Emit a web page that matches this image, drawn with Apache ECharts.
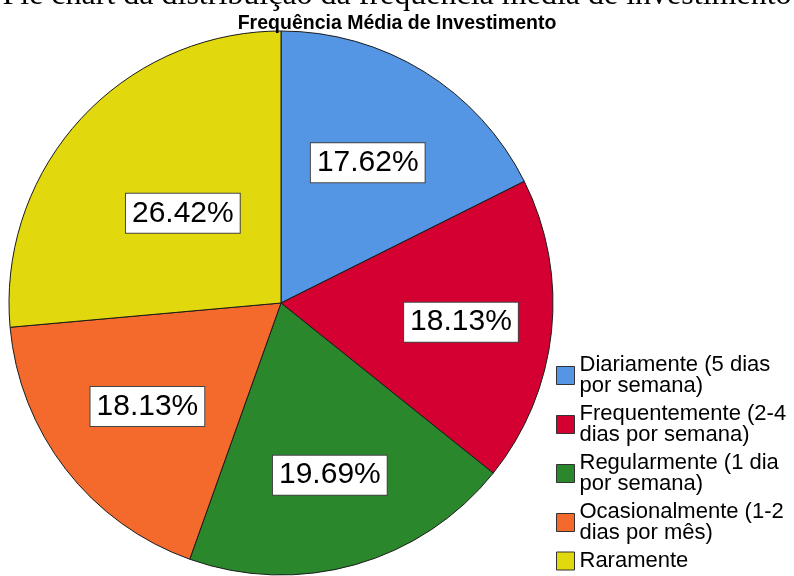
<!DOCTYPE html>
<html>
<head>
    <meta charset="utf-8">
    <title>Frequência Média de Investimento</title>
    <script src="https://cdn.jsdelivr.net/npm/echarts@6/dist/echarts.min.js"></script>
</head>
<body style="margin:0;background:#fff;">
    <div id="main" style="width: 794px;height:576px;"></div>
    <script type="text/javascript">
        // dados (percentagens)
        var categorias = [
            'Diariamente (5 dias\npor semana)',
            'Frequentemente (2-4\ndias por semana)',
            'Regularmente (1 dia\npor semana)',
            'Ocasionalmente (1-2\ndias por mês)',
            'Raramente'
        ];
        var percentagens = [17.62, 18.13, 19.69, 18.13, 26.42];
        var cores = ['#5596E4', '#D50032', '#2A872C', '#F46A2C', '#E2D80E'];

        // distância (px) das etiquetas ao centro, como no original
        var raioEtiqueta = [165, 181, 179, 169, 133];
        var cx = 281, cy = 303;

        var myChart = echarts.init(document.getElementById('main'));

        var option = {
            animation: false,
            graphic: [{
                type: 'text',
                left: 'center',
                top: -20,
                style: {
                    text: 'Pie chart da distribuição da frequência média de investimento',
                    font: '32px "Liberation Serif"',
                    fill: '#000'
                }
            }],
            title: {
                text: 'Frequência Média de Investimento',
                left: 'center',
                top: 9,
                textStyle: {
                    fontFamily: 'Liberation Sans',
                    fontSize: 19.5,
                    fontWeight: 'bold',
                    color: '#000'
                }
            },
            legend: {
                orient: 'vertical',
                left: 556,
                top: 354,
                height: 222,
                padding: 0,
                itemWidth: 18,
                itemHeight: 18,
                itemGap: 6,
                icon: 'rect',
                itemStyle: { borderColor: '#333', borderWidth: 1 },
                textStyle: {
                    fontFamily: 'Liberation Sans',
                    fontSize: 22,
                    lineHeight: 21,
                    color: '#000'
                },
                data: categorias
            },
            series: [{
                type: 'pie',
                center: [cx, cy],
                radius: 272,
                startAngle: 90,
                clockwise: true,
                color: cores,
                itemStyle: { borderColor: '#1a1a1a', borderWidth: 1 },
                emphasis: { disabled: true },
                label: {
                    show: true,
                    position: 'inside',
                    formatter: function (p) { return p.value.toFixed(2) + '%'; },
                    fontFamily: 'Liberation Sans',
                    fontSize: 30,
                    color: '#000',
                    backgroundColor: '#fff',
                    borderColor: '#444',
                    borderWidth: 1,
                    padding: [5, 6, 4, 6]
                },
                labelLayout: function (p) {
                    var r = p.labelRect;
                    var lx = r.x + r.width / 2, ly = r.y + r.height / 2;
                    var d = Math.sqrt((lx - cx) * (lx - cx) + (ly - cy) * (ly - cy)) || 1;
                    var k = raioEtiqueta[p.dataIndex] / d;
                    return { x: cx + (lx - cx) * k, y: cy + (ly - cy) * k };
                },
                data: categorias.map(function (c, i) {
                    return { name: c, value: percentagens[i] };
                })
            }]
        };
        myChart.setOption(option);
    </script>
</body>
</html>
